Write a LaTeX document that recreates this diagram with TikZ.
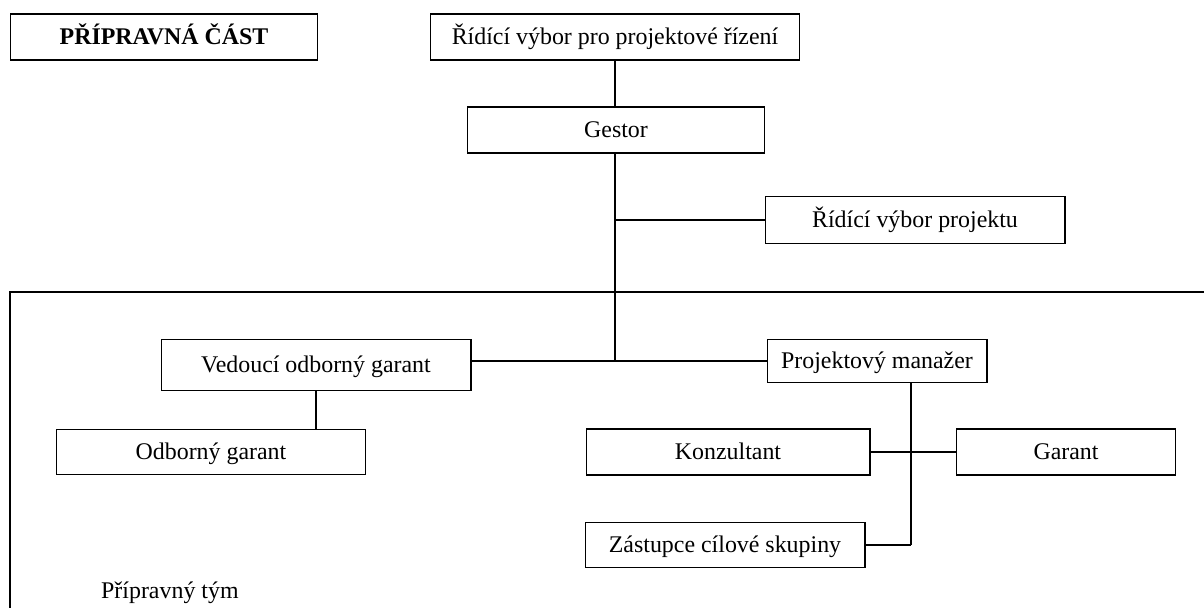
\documentclass[tikz,border=0pt]{standalone}
\usepackage{fontspec}
\setmainfont{Liberation Serif}
\usetikzlibrary{positioning,calc}

\tikzset{
  box/.style={draw,line width=0.6pt,inner sep=0pt,text height=10.6pt,text depth=2.4pt,
    font=\fontsize{13.6}{16}\selectfont},
  thin link/.style={line width=0.6pt},
  thick link/.style={line width=1.1pt}
}

\begin{document}
\begin{tikzpicture}[x=0.02cm,y=-0.02cm]
  \useasboundingbox (0,0) rectangle (1204,608);
  % frame of the team
  \draw[thin link] (1204,292) -| (10,608);

  \node[box,minimum width=6.16cm,minimum height=0.92cm,font=\fontsize{13.6}{16}\selectfont\bfseries]
    (prep) at (164,37) {PŘÍPRAVNÁ ČÁST};
  \node[box,minimum width=7.4cm,minimum height=0.92cm] (rvpr) at (615,37) {Řídící výbor pro projektové řízení};
  \node[box,minimum width=5.94cm,minimum height=0.92cm] (gestor) at (616,130) {Gestor};
  \node[box,minimum width=6.0cm,minimum height=0.94cm] (rvproj) at (915,220) {Řídící výbor projektu};
  \node[box,minimum width=6.2cm,minimum height=1.02cm] (vog) at (316,365) {Vedoucí odborný garant};
  \node[box,minimum width=6.2cm,minimum height=0.9cm] (og) at (211,452) {Odborný garant};
  \node[box,minimum width=4.4cm,minimum height=0.86cm] (pm) at (877,361) {Projektový manažer};
  \node[box,minimum width=5.68cm,minimum height=0.92cm] (konz) at (728,452) {Konzultant};
  \node[box,minimum width=4.38cm,minimum height=0.92cm] (garant) at (1066,452) {Garant};
  \node[box,minimum width=5.6cm,minimum height=0.9cm] (zast) at (725,545) {Zástupce cílové skupiny};
  \node[anchor=west,font=\fontsize{13.6}{16}\selectfont] (tym) at (95,593) {Přípravný tým};

  \coordinate (hub) at (615,361);
  \coordinate (pmdrop) at ($(pm.south)+(34,0)$);

  \draw[thick link] (rvpr.south) -- (rvpr.south |- gestor.north);
  \draw[thick link] (gestor.south -| hub) -- (hub);
  \draw[thin link] (rvproj.west -| hub) -- (rvproj.west);
  \draw[thin link] (vog.east |- hub) -- (hub) -- (pm.west);
  \draw[thick link] (vog.south) -- (vog.south |- og.north);
  \draw[thin link] (pmdrop) -- (pmdrop |- zast.east);
  \draw[thick link] (pmdrop |- zast.east) -- (zast.east);
  \draw[thin link] (konz.east) -- (garant.west);
\end{tikzpicture}
\end{document}
